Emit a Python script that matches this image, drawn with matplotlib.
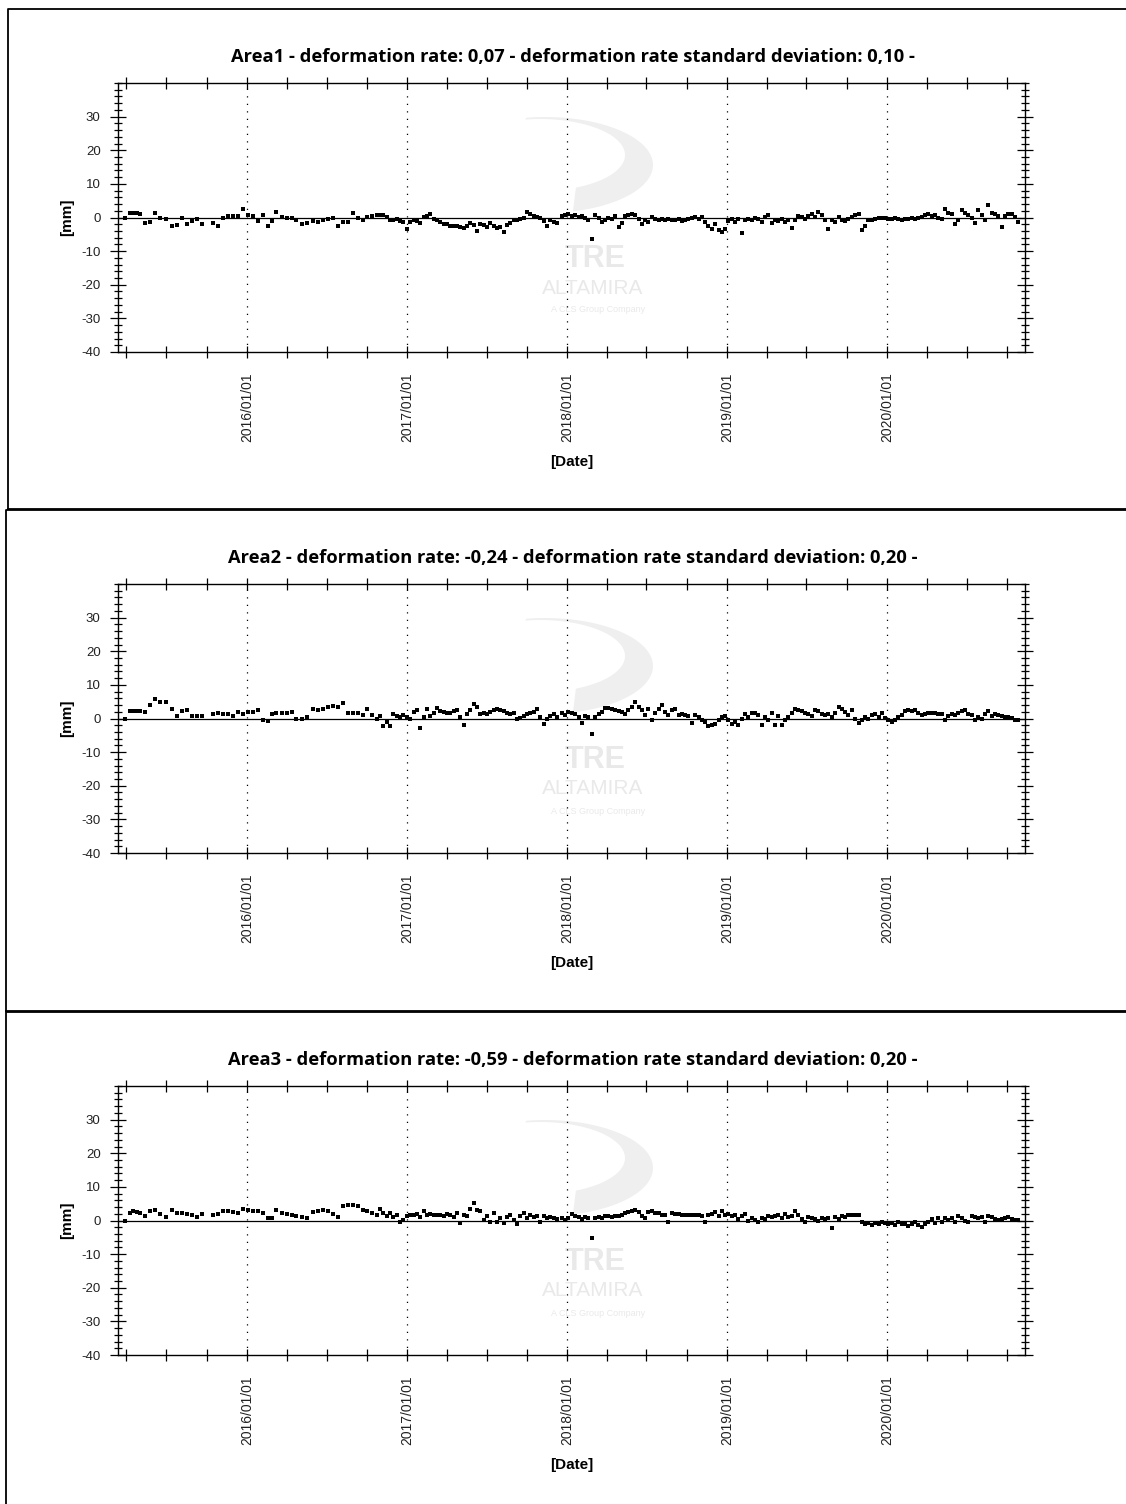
import matplotlib
matplotlib.use("Agg")
import matplotlib.pyplot as plt
import matplotlib.dates as mdates
import numpy as np
from matplotlib.ticker import MultipleLocator
from matplotlib.lines import Line2D
from matplotlib.patches import Polygon
from datetime import datetime, timedelta

plt.rcParams['font.family'] = ['Liberation Sans', 'DejaVu Sans']
plt.rcParams['axes.unicode_minus'] = False

# ---------------- data (acquisition dates as decimal years) ----------------
dates_early = [
    2015.238, 2015.269, 2015.290, 2015.310, 2015.331, 2015.363, 2015.394, 2015.425, 2015.456, 2015.494,
    2015.529, 2015.560, 2015.592, 2015.623, 2015.654, 2015.685, 2015.717, 2015.790, 2015.821, 2015.852,
    2015.883, 2015.915, 2015.946, 2015.977, 2016.008, 2016.040, 2016.071, 2016.102, 2016.133, 2016.154,
    2016.185, 2016.217, 2016.248, 2016.279, 2016.310, 2016.342, 2016.373, 2016.415, 2016.446, 2016.477,
    2016.508, 2016.540, 2016.571, 2016.602, 2016.633, 2016.665, 2016.696, 2016.727, 2016.748, 2016.779,
    2016.810, 2016.831, 2016.852, 2016.873, 2016.894, 2016.915, 2016.935, 2016.956, 2016.977, 2016.998,
    2017.019, 2017.040, 2017.060, 2017.081, 2017.102, 2017.123, 2017.144, 2017.165, 2017.185, 2017.206,
    2017.227, 2017.248, 2017.269, 2017.290, 2017.310, 2017.331, 2017.352, 2017.373, 2017.394, 2017.415,
    2017.435, 2017.456, 2017.477, 2017.498, 2017.519, 2017.540, 2017.560, 2017.581, 2017.602, 2017.623,
    2017.644, 2017.665, 2017.685, 2017.706, 2017.727, 2017.748, 2017.769, 2017.790, 2017.810, 2017.831,
    2017.852, 2017.873, 2017.894, 2017.915, 2017.935,
]
dates_late = [
    2017.967, 2017.988, 2018.008, 2018.029, 2018.050, 2018.071, 2018.092, 2018.113, 2018.133, 2018.154,
    2018.175, 2018.196, 2018.217, 2018.238, 2018.258, 2018.279, 2018.300, 2018.321, 2018.342, 2018.363,
    2018.383, 2018.404, 2018.425, 2018.446, 2018.467, 2018.488, 2018.508, 2018.529, 2018.550, 2018.571,
    2018.592, 2018.613, 2018.633, 2018.654, 2018.675, 2018.696, 2018.717, 2018.738, 2018.758, 2018.779,
    2018.800, 2018.821, 2018.842, 2018.863, 2018.883, 2018.904, 2018.925, 2018.946, 2018.967, 2018.988,
    2019.008, 2019.029, 2019.050, 2019.071, 2019.092, 2019.113, 2019.133, 2019.154, 2019.175, 2019.196,
    2019.217, 2019.238, 2019.258, 2019.279, 2019.300, 2019.321, 2019.342, 2019.363, 2019.383, 2019.404,
    2019.425, 2019.446, 2019.467, 2019.488, 2019.508, 2019.529, 2019.550, 2019.571, 2019.592, 2019.613,
    2019.633, 2019.654, 2019.675, 2019.696, 2019.717, 2019.738, 2019.758, 2019.779, 2019.800, 2019.821,
    2019.842, 2019.863, 2019.883, 2019.904, 2019.925, 2019.946, 2019.967, 2019.988, 2020.008, 2020.029,
    2020.050, 2020.071, 2020.092, 2020.113, 2020.133, 2020.154, 2020.175, 2020.196, 2020.217, 2020.238,
    2020.258, 2020.279, 2020.300, 2020.321, 2020.342, 2020.363, 2020.383, 2020.404, 2020.425, 2020.446,
    2020.467, 2020.488, 2020.508, 2020.529, 2020.550, 2020.571, 2020.592, 2020.613, 2020.633, 2020.654,
    2020.675, 2020.696, 2020.717, 2020.738, 2020.758, 2020.779, 2020.800, 2020.821,
]

area1_mm = [
    0.0, 1.4, 1.4, 1.4, 0.9, -1.5, -1.2, 1.2, -0.1, -0.4,
    -2.4, -2.2, 0.0, -1.9, -0.9, -0.5, -2.0, -1.6, -2.4, 0.0,
    0.5, 0.5, 0.5, 2.5, 0.6, 0.5, -1.1, 0.8, -2.4, -0.9,
    1.5, 0.1, 0.0, -0.1, -0.8, -1.9, -1.5, -1.0, -1.2, -0.6,
    -0.5, 0.0, -2.4, -1.4, -1.3, 1.2, -0.2, -0.6, 0.1, 0.5,
    0.6, 0.7, 0.6, 0.2, -0.8, -0.6, -0.5, -1.0, -1.4, -3.3,
    -1.4, -0.8, -1.0, -1.6, 0.2, 0.5, 1.0, -0.3, -0.8, -1.2,
    -1.8, -2.0, -2.4, -2.6, -2.6, -2.8, -3.0, -2.4, -1.6, -2.1,
    -4.0, -1.8, -2.2, -2.8, -1.6, -2.5, -3.0, -2.8, -4.3, -2.3,
    -1.5, -0.8, -0.6, -0.3, 0.0, 1.5, 0.9, 0.5, 0.2, -0.1,
    -1.0, -2.6, -0.8, -1.2, -1.6,
    0.5, 0.7, 0.9, 0.4, 0.7, 0.2, 0.5, 0.0, -0.6, -6.3,
    0.6, -0.1, -1.3, -0.8, 0.0, -0.3, 0.4, -2.8, -1.6, 0.4,
    0.8, 0.9, 0.7, -0.3, -1.8, -0.6, -1.3, 0.2, -0.3, -0.6,
    -0.4, -0.6, -0.3, -0.8, -0.6, -0.5, -0.9, -0.6, -0.5, 0.0,
    0.2, -0.3, 0.2, -1.3, -2.6, -3.3, -2.0, -3.6, -4.3, -3.3,
    -1.0, -0.3, -1.3, -0.3, -4.5, -0.6, -0.3, -0.8, 0.0, -0.3,
    -1.3, 0.2, 0.7, -1.6, -0.6, -1.0, -0.3, -1.3, -0.6, -3.1,
    -0.6, 0.4, 0.2, -0.3, 0.4, 1.0, 0.2, 1.7, 0.7, -0.6,
    -3.3, -0.8, -1.3, 0.2, -0.8, -1.0, -0.3, 0.2, 0.7, 1.0,
    -3.6, -2.6, -0.6, -0.8, -0.3, -0.1, 0.0, -0.2, -0.4, -0.3,
    -0.2, -0.4, -0.6, -0.3, -0.4, -0.2, -0.4, -0.1, 0.2, 0.8,
    1.0, 0.4, 0.7, 0.0, -0.3, 2.4, 1.2, 0.9, -1.8, -0.8,
    2.2, 1.2, 0.8, 0.0, -1.6, 2.2, 0.7, -0.8, 3.7, 1.2,
    0.9, 0.4, -2.8, 0.4, 1.0, 0.9, 0.2, -1.3,
]
area2_mm = [
    0.0, 2.2, 2.3, 2.2, 2.1, 1.9, 3.9, 5.7, 5.0, 4.9,
    2.8, 0.7, 2.2, 2.5, 0.8, 0.8, 0.6, 1.2, 1.5, 1.2,
    1.2, 0.8, 1.9, 1.3, 1.8, 1.9, 2.5, -0.5, -0.7, 1.2,
    1.5, 1.5, 1.5, 1.8, 0.0, 0.0, 0.3, 2.8, 2.5, 2.8,
    3.3, 3.7, 3.5, 4.5, 1.7, 1.5, 1.7, 1.0, 2.7, 1.0,
    0.0, 0.7, -2.3, -1.0, -2.3, 1.3, 0.8, 0.5, 1.0, 0.5,
    -0.2, 2.0, 2.5, -2.8, 0.5, 2.7, 0.7, 1.5, 3.0, 2.3,
    2.0, 1.7, 1.7, 2.2, 2.5, 0.5, -2.0, 1.2, 2.5, 4.2,
    3.3, 1.3, 1.5, 1.3, 2.0, 2.5, 2.8, 2.5, 2.3, 1.7,
    1.2, 1.5, 0.0, 0.1, 0.8, 1.3, 1.7, 2.0, 2.7, 0.5,
    -1.5, 0.0, 0.7, 1.2, 0.5,
    1.7, 1.0, 2.0, 1.7, 1.3, 0.5, -1.3, 0.7, 0.3, -4.7,
    0.5, 1.2, 2.0, 3.0, 3.0, 2.8, 2.5, 2.2, 2.0, 1.3,
    2.5, 3.3, 5.0, 3.3, 2.5, 1.0, 2.7, -0.5, 1.7, 2.7,
    4.0, 2.0, 1.0, 2.5, 2.7, 1.0, 1.3, 1.0, 0.8, -1.3,
    1.0, 0.5, -0.3, -1.0, -2.3, -2.0, -1.5, -0.5, 0.5, 0.7,
    -0.3, -1.5, -1.0, -2.0, 0.0, 1.3, 0.3, 1.7, 1.5, 1.0,
    -2.0, 0.5, -0.5, 1.5, -2.0, 0.7, -2.0, -0.5, 0.5, 1.7,
    2.8, 2.5, 2.3, 1.7, 1.3, 0.7, 2.5, 2.3, 1.3, 1.0,
    1.3, 0.5, 1.5, 3.3, 2.7, 2.0, 1.0, 2.5, 0.0, -1.3,
    -0.3, 0.5, 0.0, 1.0, 1.3, 0.5, 1.5, 0.2, -0.5, -1.0,
    -0.3, 0.3, 1.0, 2.3, 2.5, 2.3, 2.5, 1.5, 1.0, 1.3,
    1.5, 1.7, 1.5, 1.3, 1.3, -0.5, 0.7, 1.3, 1.0, 1.7,
    2.3, 2.5, 1.3, 1.0, -0.5, 0.5, 0.0, 1.3, 2.3, 0.7,
    1.3, 1.0, 0.7, 0.5, 0.5, 0.2, -0.5, -0.5,
]
area3_mm = [
    0.0, 2.2, 2.7, 2.5, 2.2, 1.2, 2.7, 3.2, 1.9, 0.9,
    3.2, 2.2, 2.2, 1.9, 1.5, 1.0, 1.9, 1.7, 1.9, 2.7,
    2.7, 2.5, 2.2, 3.5, 3.2, 2.7, 2.7, 2.2, 0.7, 0.7,
    3.2, 2.2, 1.9, 1.5, 1.2, 1.0, 0.7, 2.5, 2.9, 3.2,
    2.7, 1.9, 1.0, 4.2, 4.5, 4.5, 4.2, 3.2, 2.7, 2.2,
    1.7, 3.5, 2.2, 1.2, 2.2, 0.9, 1.7, -0.3, 0.2, 1.2,
    1.5, 1.7, 1.9, 1.0, 2.9, 1.7, 1.9, 1.7, 1.5, 1.7,
    1.2, 1.9, 1.5, 1.1, 2.2, -0.8, 1.7, 1.2, 3.5, 5.2,
    3.2, 2.7, 0.2, 1.2, -0.3, 2.2, -0.3, 0.7, -0.8, 1.0,
    1.5, 0.2, -1.1, 1.2, 2.2, 0.7, 1.7, 0.9, 1.2, -0.3,
    1.2, 0.7, 0.9, 0.7, 0.4,
    0.7, 0.2, 0.7, 1.9, 1.2, 0.9, 0.5, 1.0, 0.7, -5.3,
    0.7, 0.9, 0.7, 1.2, 1.2, 0.9, 1.2, 1.2, 1.7, 2.2,
    2.5, 2.9, 3.2, 2.5, 1.2, 0.7, 2.5, 2.9, 2.2, 2.2,
    1.5, 1.7, -0.5, 2.2, 1.9, 1.9, 1.5, 1.7, 1.5, 1.5,
    1.5, 1.5, 1.2, -0.5, 1.5, 1.9, 2.5, 1.2, 2.9, 1.7,
    1.9, 1.2, 1.5, 0.5, 1.2, 1.9, -0.1, 0.7, 0.2, -0.3,
    0.7, 0.5, 1.2, 1.0, 1.2, 1.5, 0.7, 1.9, 0.9, 1.2,
    2.9, 1.5, 0.5, -0.5, 0.9, 0.7, 0.5, -0.1, 0.7, 0.5,
    0.7, -2.3, 0.9, 0.5, 1.2, 0.9, 1.5, 1.5, 1.7, 1.5,
    -0.3, -1.1, -0.8, -1.3, -0.8, -1.1, -0.5, -0.8, -1.1, -0.8,
    -1.3, -0.5, -1.1, -1.1, -1.5, -1.1, -0.5, -1.3, -1.8, -1.1,
    -0.5, 0.5, -0.8, 0.7, -0.5, 0.7, 0.2, 0.7, -0.3, 1.2,
    0.7, -0.1, -0.3, 1.2, 0.9, 0.7, 0.9, -0.5, 1.2, 0.9,
    0.5, 0.2, 0.5, 0.7, 0.9, 0.4, 0.2, 0.1,
]

area_names = ["Area1", "Area2", "Area3"]
rates = ["0,07", "-0,24", "-0,59"]
rate_std = ["0,10", "0,20", "0,20"]
series = [area1_mm, area2_mm, area3_mm]

y_ticks = [-40, -30, -20, -10, 0, 10, 20, 30]


def dec2dt(y):
    yr = int(y)
    return datetime(yr, 1, 1) + timedelta(days=(y - yr) * 365.25)


dates = [dec2dt(d) for d in dates_early + dates_late]

# ---------------- figure ----------------
W, H = 1126, 1504
fig = plt.figure(figsize=(W / 100, H / 100), dpi=100)
fig.patch.set_facecolor("white")

offsets = [0, 501, 1003]
frame_tops = [9, 510, 1012]
frame_bottoms = [509, 1011, None]
frame_lefts = [8, 6, 6]


def px(x, y):
    """pixel (from top-left) -> inches for dpi_scale_trans"""
    return x / 100, (H - y) / 100


# crescent outline for the faint logo (decoration)
t_out = np.radians(np.linspace(100, -75, 60))
t_in = np.radians(np.linspace(-65, 100, 60))
logo_outer = [(545 + 108 * np.cos(t), 165 - 48 * np.sin(t)) for t in t_out]
logo_inner = [(540 + 85 * np.cos(t), 155 - 36 * np.sin(t)) for t in t_in]

for i in range(3):
    off = offsets[i]
    top_px, bot_px = 83 + off, 352 + off
    ax = fig.add_axes([118 / W, 1 - bot_px / H, 907 / W, (bot_px - top_px) / H])
    ax.set_zorder(2)
    ax.patch.set_alpha(0)

    ax.plot(dates, series[i], linestyle="none", marker="s", markersize=3.1,
            color="black", markeredgewidth=0, zorder=4)
    ax.axhline(0, color="black", lw=0.9, zorder=3)

    ax.set_ylim(-40, 40)
    ax.set_xlim(dec2dt(2015.194), dec2dt(2020.862))
    ax.set_yticks(y_ticks)
    ax.yaxis.set_minor_locator(MultipleLocator(2))
    ax.xaxis.set_major_locator(mdates.YearLocator())
    ax.xaxis.set_major_formatter(mdates.DateFormatter("%Y/%m/%d"))
    ax.xaxis.set_minor_locator(mdates.MonthLocator(bymonth=[4, 7, 10]))

    ax.grid(True, which="major", axis="x", color="black", linestyle=(0, (1, 5)), lw=0.9)

    ax.tick_params(axis="both", which="both", direction="inout", top=True, right=True,
                   labelright=False, labeltop=False, width=0.9, colors="black")
    ax.tick_params(axis="y", which="major", length=11, pad=7, labelsize=9.5, labelcolor="#222222")
    ax.tick_params(axis="y", which="minor", length=6)
    ax.tick_params(axis="x", which="major", length=9, pad=10, labelsize=10,
                   labelrotation=90, labelcolor="#222222")
    ax.tick_params(axis="x", which="minor", length=8)
    for s in ax.spines.values():
        s.set_linewidth(1.0)

    ax.set_ylabel("[mm]", fontsize=11, fontweight="bold", labelpad=5)

    fig.text(573 / W, 1 - (57 + off) / H,
             f"{area_names[i]} - deformation rate: {rates[i]} - deformation rate standard deviation: {rate_std[i]} -",
             ha="center", va="center", fontsize=13.2, fontweight="bold",
             family=["Open Sans", "DejaVu Sans"])
    fig.text(572 / W, 1 - (462 + off) / H, "[Date]", ha="center", va="center",
             fontsize=11, fontweight="bold")

    # faint watermark
    wcol = "#e9e9e9"
    pts = [px(x, y + off) for x, y in logo_outer + logo_inner]
    fig.add_artist(Polygon(pts, closed=True, transform=fig.dpi_scale_trans,
                           facecolor="#efefef", edgecolor="none", zorder=0))
    fig.text(595 / W, 1 - (259 + off) / H, "TRE", ha="center", va="center", fontsize=22,
             fontweight="bold", color=wcol, zorder=1)
    fig.text(593 / W, 1 - (288 + off) / H, "ALTAMIRA", ha="center", va="center", fontsize=15,
             color=wcol, zorder=1)
    fig.text(598 / W, 1 - (310 + off) / H, "A CLS Group Company", ha="center", va="center",
             fontsize=6.5, color=wcol, zorder=1)

    # panel frame (screenshot border)
    t, b, l = frame_tops[i], frame_bottoms[i], frame_lefts[i]
    bottom_y = b if b is not None else H
    xs, ys = zip(px(l, bottom_y), px(l, t), px(W, t))
    fig.add_artist(Line2D(xs, ys, transform=fig.dpi_scale_trans, color="black", lw=1.3))
    if b is not None:
        xs, ys = zip(px(l, b), px(W, b))
        fig.add_artist(Line2D(xs, ys, transform=fig.dpi_scale_trans, color="black", lw=1.3))

fig.savefig("out.png", dpi=100, facecolor="white")
